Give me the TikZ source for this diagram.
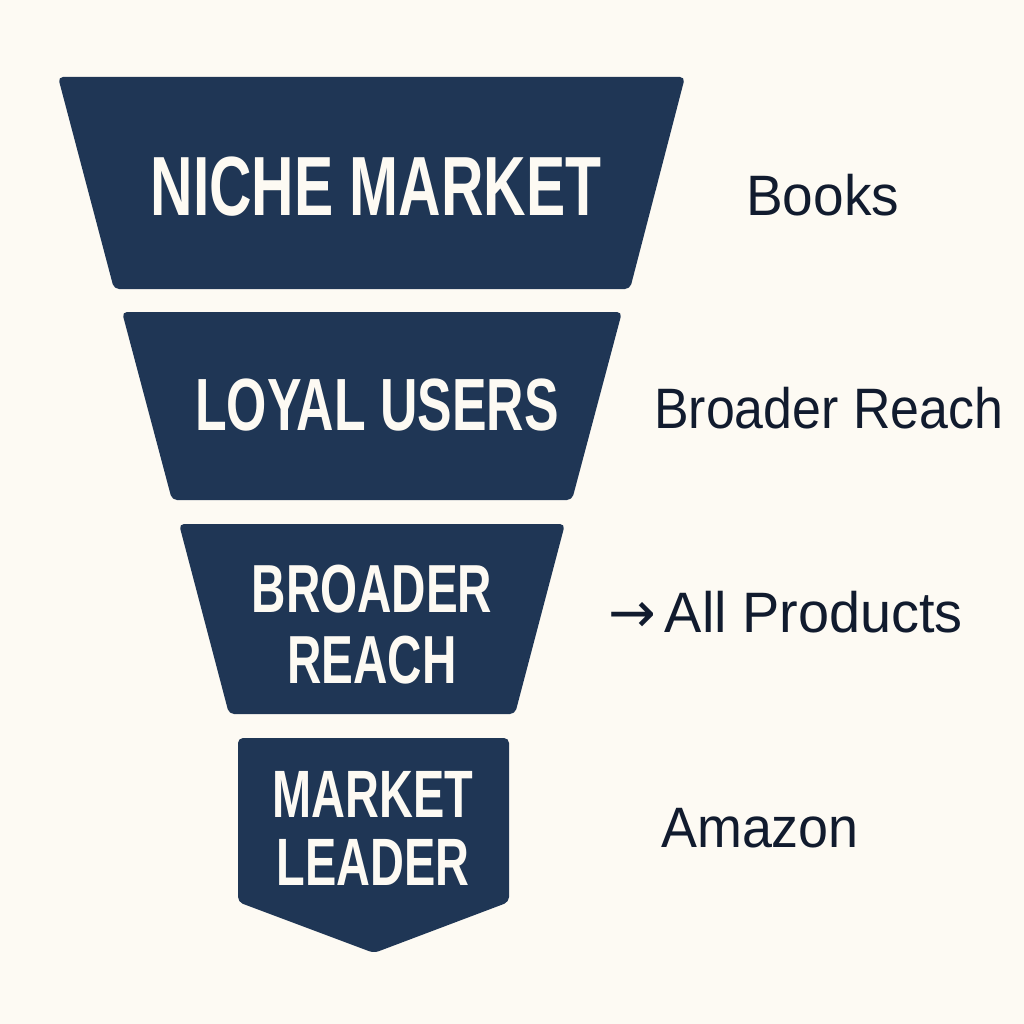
\documentclass[tikz,border=0pt]{standalone}
\usepackage{fontspec}
\usepackage{graphicx}
\setmainfont{Liberation Sans}
\newfontfamily\titlefont{Liberation Sans}[FakeStretch=0.70]
\newfontfamily\labelfont{Liberation Sans}
\newfontfamily\arrowfont{DejaVu Sans}
\definecolor{navy}{HTML}{1F3655}
\definecolor{cream}{HTML}{FDFAF3}
\definecolor{ink}{HTML}{111B2E}
\tikzset{
  stage/.style={fill=navy, rounded corners=5pt},
  ttl/.style={anchor=base, inner sep=0pt, text=cream, font=\titlefont\bfseries, align=center},
  side/.style={anchor=base west, inner sep=0pt, text=ink, font=\labelfont\fontsize{57}{60}\selectfont}
}
\begin{document}
\begin{tikzpicture}[x=1pt,y=-1pt]
\useasboundingbox[fill=cream] (0,0) rectangle (1024,1024);
% stages
\path[stage] (58,77) -- (685,77) -- (630,289) -- (114,289) -- cycle;
\path[stage] (122,312) -- (622,312) -- (572,500) -- (172,500) -- cycle;
\path[stage] (179,524) -- (565,524) -- (515,714) -- (229,714) -- cycle;
\path[stage] (238,738) -- (509,738) -- (509,902) -- (374,953) -- (238,902) -- cycle;
% titles
\node[ttl, font=\titlefont\bfseries\fontsize{84}{84}\selectfont] (t1) at (376,215) {NICHE MARKET};
\node[ttl, font=\titlefont\bfseries\fontsize{74}{74}\selectfont] (t2) at (377,430) {LOYAL USERS};
\node[ttl, font=\titlefont\bfseries\fontsize{68}{68}\selectfont] (t3a) at (372,612) {BROADER};
\node[ttl, font=\titlefont\bfseries\fontsize{68}{68}\selectfont] (t3b) at (372,683) {REACH};
\node[ttl, font=\titlefont\bfseries\fontsize{67}{67}\selectfont] (t4a) at (373,817) {MARKET};
\node[ttl, font=\titlefont\bfseries\fontsize{67}{67}\selectfont] (t4b) at (373,885) {LEADER};
% side labels
\node[side] (l1) at (746,215) {\scalebox{0.965}[1]{Books}};
\node[side] (l2) at (654,428) {\scalebox{0.91}[1]{Broader Reach}};
\node[side] (l3) at (608,632) {{\arrowfont →}\hspace{9pt}\scalebox{0.98}[1]{All Products}};
\node[side] (l4) at (661,847) {\scalebox{0.945}[1]{Amazon}};
\end{tikzpicture}
\end{document}
